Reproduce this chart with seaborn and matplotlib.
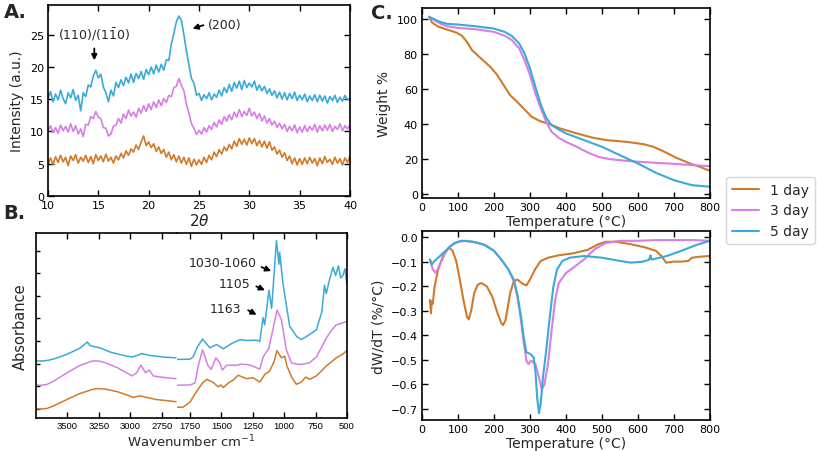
import numpy as np
import pandas as pd
import matplotlib
matplotlib.use("Agg")
import matplotlib.pyplot as plt
import seaborn as sns

# ---------------- data ----------------
series_names = ["1 day", "3 day", "5 day"]
colors = ["#d17a2a", "#d67fe4", "#3aaad8"]

# Panel A: XRD (2theta from 10 to 40, step 0.25)
xrd_two_theta = [10 + 0.25 * i for i in range(121)]
xrd_5day = [15.0, 16.2, 14.6, 15.8, 14.9, 16.4, 15.1, 14.3, 16.0, 15.2, 16.5, 14.8, 15.6, 13.2, 16.0, 15.4,
            17.2, 16.9, 18.6, 19.5, 18.3, 18.9, 16.9, 16.0, 14.6, 16.4, 15.5, 17.6, 16.8, 18.0, 17.1, 18.4,
            17.5, 18.9, 17.6, 19.0, 18.2, 19.3, 18.1, 19.6, 18.8, 20.0, 18.9, 20.3, 19.2, 20.4, 19.5, 21.1,
            21.0, 23.5, 25.2, 27.0, 27.9, 27.2, 25.0, 22.5, 20.3, 18.2, 17.5, 15.6, 15.9, 14.8, 15.7, 15.1,
            16.0, 14.9, 15.8, 15.3, 16.4, 15.5, 16.8, 16.0, 17.3, 16.2, 17.6, 16.7, 17.8, 16.5, 17.9, 16.8,
            17.5, 16.9, 17.8, 16.4, 17.2, 16.3, 17.0, 15.9, 16.6, 15.6, 16.3, 15.2, 16.1, 15.0, 16.0, 14.9,
            15.9, 15.1, 16.1, 14.8, 15.6, 14.9, 15.8, 14.6, 15.5, 14.8, 15.7, 14.6, 15.6, 14.7, 15.5, 14.4,
            15.4, 14.8, 15.6, 14.5, 15.3, 14.7, 15.6, 14.9, 15.2]
xrd_3day = [10.0, 10.9, 9.8, 10.6, 9.7, 11.0, 10.1, 10.8, 9.9, 11.2, 10.0, 10.9, 9.6, 10.4, 9.2, 11.1,
            11.0, 12.3, 12.0, 13.1, 12.2, 12.0, 10.6, 10.5, 9.3, 9.6, 10.8, 11.0, 12.0, 11.3, 12.7, 12.0,
            13.3, 12.4, 13.0, 12.2, 13.6, 12.8, 14.0, 13.1, 14.3, 13.4, 14.6, 13.7, 14.9, 14.0, 15.1, 14.5,
            15.6, 15.4, 16.8, 17.0, 18.2, 17.2, 16.3, 14.2, 12.8, 11.2, 10.5, 9.5, 10.2, 9.6, 10.6, 9.9,
            10.9, 10.3, 11.4, 10.7, 11.8, 11.1, 12.3, 11.6, 12.6, 11.8, 13.0, 12.2, 13.4, 12.3, 13.1, 12.5,
            13.6, 12.4, 13.0, 12.0, 12.8, 11.6, 12.4, 11.3, 12.0, 11.0, 11.6, 10.6, 11.3, 10.4, 11.1, 10.0,
            10.8, 10.1, 11.0, 9.8, 10.7, 9.9, 10.9, 10.0, 10.8, 10.2, 11.1, 9.9, 10.9, 10.1, 11.0, 10.2,
            11.1, 10.0, 10.8, 10.3, 11.2, 10.1, 10.9, 10.4, 11.0]
xrd_1day = [4.8, 5.9, 4.9, 6.1, 5.2, 6.3, 5.3, 6.0, 4.7, 6.2, 5.5, 6.4, 5.1, 6.0, 5.4, 6.3,
            5.2, 6.1, 5.0, 6.4, 5.5, 6.2, 5.3, 6.5, 5.4, 6.0, 5.1, 6.2, 5.6, 6.6, 5.9, 7.0,
            6.3, 7.3, 6.8, 7.9, 7.2, 8.4, 9.3, 7.8, 8.4, 7.5, 8.1, 6.9, 7.6, 6.6, 7.2, 6.0,
            6.8, 5.6, 6.4, 5.3, 6.2, 5.1, 6.0, 4.9, 5.9, 4.6, 5.7, 4.8, 5.6, 4.9, 6.0, 5.2,
            6.3, 5.6, 6.8, 6.1, 7.2, 6.5, 7.6, 7.0, 8.0, 7.3, 8.5, 7.7, 8.9, 8.0, 8.8, 7.9,
            9.0, 8.1, 8.9, 7.8, 8.6, 7.6, 8.5, 7.4, 8.4, 7.1, 7.6, 6.5, 7.1, 6.0, 6.7, 5.5,
            6.2, 5.0, 5.9, 4.8, 5.8, 4.9, 5.9, 5.0, 6.0, 5.1, 5.8, 4.7, 5.9, 5.0, 6.1, 5.2,
            5.7, 4.9, 6.0, 5.1, 5.8, 4.8, 5.9, 5.2, 6.2]

# Panel B: FTIR (high wavenumber segment)
ir_hi_wn_1 = [3745, 3700, 3660, 3600, 3500, 3400, 3300, 3265, 3200, 3100, 3000, 2980, 2924, 2880, 2800, 2700, 2640]
ir_hi_1day = [0.0, 0.0, 0.02, 0.15, 0.42, 0.68, 0.86, 0.9, 0.88, 0.76, 0.56, 0.51, 0.58, 0.52, 0.42, 0.36, 0.32]
ir_hi_wn_3 = [3745, 3700, 3660, 3600, 3500, 3400, 3300, 3250, 3200, 3100, 3000, 2990, 2950, 2918, 2880, 2850, 2820, 2750, 2640]
ir_hi_3day = [1.05, 1.05, 1.08, 1.25, 1.6, 1.92, 2.12, 2.12, 2.05, 1.82, 1.5, 1.46, 1.6, 1.94, 1.6, 1.72, 1.46, 1.4, 1.34]
ir_hi_wn_5 = [3745, 3700, 3650, 3600, 3500, 3400, 3339, 3318, 3240, 3150, 3050, 2990, 2950, 2910, 2850, 2750, 2640]
ir_hi_5day = [2.12, 2.12, 2.15, 2.22, 2.42, 2.68, 2.96, 2.8, 2.7, 2.5, 2.36, 2.3, 2.36, 2.45, 2.37, 2.3, 2.26]

# Panel B: FTIR (low wavenumber segment)
ir_lo_wn_1 = [1855, 1805, 1750, 1700, 1650, 1617, 1570, 1525, 1505, 1485, 1446, 1400, 1367, 1300, 1247, 1194,
              1155, 1115, 1080, 1057, 1022, 996, 978, 940, 903, 863, 829, 798, 744, 700, 665, 620, 585, 540, 500]
ir_lo_1day = [0.07, 0.08, 0.3, 0.75, 1.15, 1.31, 1.19, 0.98, 1.06, 0.95, 1.14, 1.3, 1.49, 1.34, 1.38, 1.19,
              1.52, 1.68, 2.1, 2.58, 2.26, 2.33, 1.9, 1.4, 1.09, 1.19, 1.41, 1.31, 1.46, 1.7, 1.9, 2.1, 2.26, 2.4, 2.58]
ir_lo_wn_3 = [1855, 1750, 1710, 1684, 1650, 1605, 1580, 1544, 1512, 1492, 1459, 1380, 1340, 1274, 1194, 1168,
              1123, 1090, 1057, 1022, 983, 943, 900, 863, 798, 744, 700, 665, 620, 585, 540, 500]
ir_lo_3day = [1.05, 1.06, 1.15, 1.9, 2.62, 1.9, 1.75, 2.26, 2.04, 1.72, 1.93, 1.93, 1.98, 1.95, 1.76, 2.3,
              2.67, 3.5, 4.37, 3.95, 2.62, 2.04, 1.98, 1.97, 2.04, 2.3, 2.75, 3.13, 3.5, 3.72, 3.8, 3.87]
ir_lo_wn_5 = [1855, 1750, 1725, 1690, 1650, 1591, 1538, 1485, 1419, 1353, 1300, 1221, 1194, 1168, 1155, 1121,
              1100, 1081, 1062, 1042, 1036, 1010, 980, 956, 900, 863, 798, 744, 700, 679, 665, 640, 612, 590,
              569, 550, 533, 515, 500]
ir_lo_5day = [2.19, 2.2, 2.3, 2.75, 3.09, 2.7, 2.85, 2.66, 2.89, 3.06, 3.03, 3.04, 2.99, 4.04, 3.72, 5.25,
              4.45, 5.9, 7.44, 6.4, 6.93, 5.55, 4.5, 3.65, 3.2, 3.07, 3.29, 3.5, 4.3, 5.47, 5.1, 5.7, 6.26, 5.9,
              6.33, 5.8, 5.9, 6.2, 5.47]
ir_hi_ticks = [3500, 3250, 3000, 2750]
ir_lo_ticks = [1750, 1500, 1250, 1000, 750, 500]

# Panel C: TGA
tga_T_1 = [20, 28, 46, 69, 97, 111, 125, 139, 162, 190, 208, 227, 245, 264, 282, 305, 328, 356, 384, 430,
           476, 513, 569, 615, 643, 670, 707, 745, 772, 800]
tga_1day = [101, 97.7, 95.3, 93.8, 91.9, 90.2, 86.7, 82.0, 77.7, 72.5, 68.2, 62.1, 56.4, 52.7, 48.9, 44.1,
            41.7, 39.8, 37.5, 34.7, 32.2, 30.9, 29.9, 28.6, 27.1, 24.6, 20.8, 17.6, 15.7, 13.4]
tga_T_3 = [20, 30, 50, 70, 100, 150, 200, 230, 250, 270, 285, 300, 315, 330, 345, 360, 380, 400, 430, 460,
           490, 520, 560, 600, 650, 700, 750, 800]
tga_3day = [101, 99.6, 97.2, 95.6, 94.7, 93.9, 92.4, 90.2, 87.7, 83.0, 76.3, 67.8, 57.4, 48.9, 41.3, 35.6,
            32.2, 29.9, 27.1, 23.9, 21.4, 20.1, 19.3, 18.6, 18.0, 17.4, 16.7, 16.1]
tga_T_5 = [20, 30, 50, 70, 100, 150, 200, 230, 250, 270, 285, 300, 315, 330, 345, 360, 380, 400, 450, 500,
           550, 600, 650, 700, 750, 800]
tga_5day = [101, 100, 98.1, 97.0, 96.6, 95.6, 94.3, 92.4, 90.0, 85.8, 80.1, 71.6, 61.2, 51.1, 43.6, 39.4,
            36.9, 34.7, 30.9, 27.1, 22.3, 17.6, 12.3, 8.1, 5.3, 4.4]

# Panel C: DTG
dtg_T_1 = [22, 25, 27, 30, 35, 45, 60, 75, 85, 95, 105, 115, 125, 130, 137, 145, 155, 165, 180, 195, 210,
           220, 225, 232, 245, 255, 265, 280, 290, 300, 315, 330, 350, 380, 420, 460, 490, 510, 540, 580, 620,
           650, 665, 678, 700, 720, 740, 750, 770, 800]
dtg_1day = [-0.255, -0.31, -0.26, -0.27, -0.2, -0.131, -0.069, -0.041, -0.055, -0.096, -0.172, -0.255, -0.324,
            -0.335, -0.296, -0.227, -0.193, -0.186, -0.2, -0.241, -0.31, -0.349, -0.358, -0.338, -0.227, -0.179,
            -0.172, -0.19, -0.196, -0.172, -0.128, -0.096, -0.083, -0.073, -0.065, -0.051, -0.028, -0.018,
            -0.018, -0.028, -0.041, -0.055, -0.076, -0.103, -0.099, -0.099, -0.096, -0.083, -0.079, -0.076]
dtg_T_3 = [22, 30, 38, 50, 65, 80, 100, 120, 150, 180, 200, 220, 240, 255, 265, 275, 283, 290, 296, 303,
           315, 325, 333, 340, 350, 360, 370, 380, 400, 420, 450, 480, 510, 550, 600, 650, 700, 750, 800]
dtg_3day = [-0.09, -0.131, -0.145, -0.11, -0.062, -0.034, -0.018, -0.014, -0.021, -0.034, -0.055, -0.09,
            -0.131, -0.179, -0.241, -0.338, -0.434, -0.503, -0.517, -0.503, -0.517, -0.572, -0.62, -0.6,
            -0.517, -0.379, -0.255, -0.186, -0.145, -0.124, -0.09, -0.048, -0.023, -0.014, -0.014, -0.011,
            -0.011, -0.011, -0.014]
dtg_T_5 = [22, 27, 35, 50, 70, 90, 110, 140, 170, 200, 220, 240, 255, 265, 275, 283, 290, 300, 305, 310, 315,
           320, 325, 330, 336, 345, 355, 365, 375, 390, 410, 450, 500, 550, 580, 610, 630, 635, 637, 640, 680,
           720, 760, 800]
dtg_5day = [-0.09, -0.11, -0.096, -0.076, -0.048, -0.023, -0.014, -0.017, -0.028, -0.055, -0.09, -0.131,
            -0.172, -0.234, -0.324, -0.413, -0.469, -0.475, -0.482, -0.489, -0.544, -0.655, -0.717, -0.675,
            -0.572, -0.462, -0.324, -0.2, -0.131, -0.096, -0.083, -0.076, -0.083, -0.096, -0.103, -0.1, -0.092,
            -0.073, -0.09, -0.09, -0.076, -0.055, -0.032, -0.014]


def long_df(xs, ys, names):
    frames = []
    for x, y, n in zip(xs, ys, names):
        frames.append(pd.DataFrame({"x": x, "y": y, "sample": n}))
    return pd.concat(frames, ignore_index=True)


sns.set_style("ticks")
plt.rcParams["font.family"] = ["DejaVu Sans"]
pal = dict(zip(series_names, colors))

W, H = 817, 452
fig = plt.figure(figsize=(W / 100, H / 100), dpi=100)


def rect(l, t, r, b):
    return [l / W, 1 - b / H, (r - l) / W, (b - t) / H]


def style_ax(ax, top=True, right=True, left=True, size=8, pad=3):
    ax.tick_params(direction="in", bottom=True, left=left, top=top, right=right,
                   labelsize=size, length=4, width=1, colors="black", pad=pad)
    for s in ax.spines.values():
        s.set_color("black")
        s.set_linewidth(1.2)


# ---- Panel A ----
axA = fig.add_axes(rect(48, 6, 350, 197))
dfA = long_df([xrd_two_theta] * 3, [xrd_1day, xrd_3day, xrd_5day], series_names)
sns.lineplot(data=dfA, x="x", y="y", hue="sample", palette=pal, ax=axA, legend=False, lw=1.2, sort=False)
axA.set_xlim(10, 40)
axA.set_ylim(0, 29.6)
axA.set_xticks([10, 15, 20, 25, 30, 35, 40])
axA.set_yticks([0, 5, 10, 15, 20, 25])
axA.set_xlabel(r"2$\theta$", fontsize=11, labelpad=1)
axA.set_ylabel("Intensity (a.u.)", fontsize=10)
style_ax(axA)
axA.text(14.6, 23.9, r"(110)/(1$\bar{1}$0)", ha="center", va="bottom", fontsize=9)
axA.annotate("", xy=(14.6, 20.6), xytext=(14.6, 23.3),
             arrowprops=dict(arrowstyle="-|>", color="black", lw=1.3, mutation_scale=8))
axA.text(25.9, 26.6, "(200)", ha="left", va="center", fontsize=9)
axA.annotate("", xy=(24.1, 25.8), xytext=(25.7, 26.6),
             arrowprops=dict(arrowstyle="-|>", color="black", lw=1.3, mutation_scale=8))

# ---- Panel B ----
axB1 = fig.add_axes(rect(36, 234, 176.5, 419))
axB2 = fig.add_axes(rect(176.5, 234, 347, 419))
dfB1 = long_df([ir_hi_wn_1, ir_hi_wn_3, ir_hi_wn_5], [ir_hi_1day, ir_hi_3day, ir_hi_5day], series_names)
dfB2 = long_df([ir_lo_wn_1, ir_lo_wn_3, ir_lo_wn_5], [ir_lo_1day, ir_lo_3day, ir_lo_5day], series_names)
sns.lineplot(data=dfB1, x="x", y="y", hue="sample", palette=pal, ax=axB1, legend=False, lw=1.1, sort=False)
sns.lineplot(data=dfB2, x="x", y="y", hue="sample", palette=pal, ax=axB2, legend=False, lw=1.1, sort=False)
for ax in (axB1, axB2):
    ax.set_ylim(-0.4, 7.78)
    ax.set_xlabel("")
    ax.set_ylabel("")
axB1.set_xlim(3745, 2636)
axB2.set_xlim(1857, 500)
style_ax(axB1, top=True, right=False, size=7, pad=2)
style_ax(axB2, top=True, right=False, left=False, size=7, pad=2)
axB1.set_xticks(ir_hi_ticks, labels=[str(t) for t in ir_hi_ticks],
                fontfamily="Liberation Sans", fontsize=6.8)
axB2.set_xticks(ir_lo_ticks, labels=[str(t) for t in ir_lo_ticks],
                fontfamily="Liberation Sans", fontsize=6.8)
axB1.set_yticks(range(8))
axB1.set_yticklabels([])
axB2.set_yticks([])
axB1.tick_params(axis="y", length=3)
axB1.spines["right"].set_visible(False)
axB2.spines["left"].set_visible(False)
axB1.set_ylabel("Absorbance", fontsize=10.5)
fig.text(191.5 / W, 1 - 447.5 / H, r"Wavenumber cm$^{-1}$", ha="center", va="baseline", fontsize=9.5)
for txt, tpos, tail, head in [("1030-1060", (1490, 6.49), (1200, 6.32), (1083, 6.05)),
                              ("1105", (1393, 5.54), (1242, 5.47), (1133, 5.2)),
                              ("1163", (1467, 4.45), (1306, 4.42), (1200, 4.11))]:
    axB2.text(tpos[0], tpos[1], txt, ha="center", va="center", fontsize=9)
    axB2.annotate("", xy=head, xytext=tail,
                  arrowprops=dict(arrowstyle="-|>", color="black", lw=1.3, mutation_scale=8))

# ---- Panel C top ----
axC1 = fig.add_axes(rect(422, 9, 710, 199))
dfC1 = long_df([tga_T_1, tga_T_3, tga_T_5], [tga_1day, tga_3day, tga_5day], series_names)
sns.lineplot(data=dfC1, x="x", y="y", hue="sample", palette=pal, ax=axC1, lw=1.5, sort=False)
axC1.set_xlim(0, 800)
axC1.set_ylim(-2, 106)
axC1.set_yticks([0, 20, 40, 60, 80, 100])
axC1.set_xlabel("Temperature (°C)", fontsize=10, labelpad=1)
axC1.set_ylabel("Weight %", fontsize=10)
style_ax(axC1)
handles, labels = axC1.get_legend_handles_labels()
axC1.get_legend().remove()

# ---- Panel C bottom ----
axC2 = fig.add_axes(rect(422, 232, 710, 421))
dfC2 = long_df([dtg_T_1, dtg_T_3, dtg_T_5], [dtg_1day, dtg_3day, dtg_5day], series_names)
sns.lineplot(data=dfC2, x="x", y="y", hue="sample", palette=pal, ax=axC2, legend=False, lw=1.5, sort=False)
axC2.set_xlim(0, 800)
axC2.set_ylim(-0.745, 0.026)
axC2.set_yticks([0.0, -0.1, -0.2, -0.3, -0.4, -0.5, -0.6, -0.7])
axC2.set_xlabel("Temperature (°C)", fontsize=10, labelpad=1)
axC2.set_ylabel("dW/dT (%/°C)", fontsize=10)
style_ax(axC2)

leg = fig.legend(handles, labels, loc="upper left", bbox_to_anchor=(726 / W, 1 - 178 / H),
                 fontsize=10, frameon=True, fancybox=True, edgecolor="0.8", borderaxespad=0)
for h in leg.get_lines():
    h.set_linewidth(1.5)

# panel letters
fig.text(4 / W, 1 - 3 / H, "A.", fontsize=14, fontweight="bold", va="top", ha="left")
fig.text(3 / W, 1 - 204 / H, "B.", fontsize=14, fontweight="bold", va="top", ha="left")
fig.text(371 / W, 1 - 4 / H, "C.", fontsize=14, fontweight="bold", va="top", ha="left")

fig.savefig("out.png", dpi=100)
